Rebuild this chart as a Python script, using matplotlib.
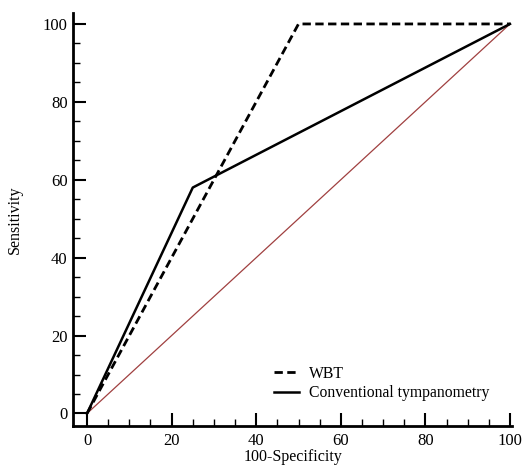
import matplotlib
matplotlib.use("Agg")
import matplotlib.pyplot as plt
from matplotlib.ticker import MultipleLocator

# ROC points
wbt_x = [0, 50, 100]
wbt_y = [0, 100, 100]
conv_x = [0, 25, 100]
conv_y = [0, 58, 100]
diag = [0, 100]

plt.rcParams["font.family"] = ["Liberation Serif", "DejaVu Serif"]

fig = plt.figure(figsize=(5.22, 4.66), dpi=100)
ax = fig.add_axes([0.14, 0.086, 0.841, 0.886])

ax.plot(diag, diag, color="#a04040", lw=0.9)
ax.plot(wbt_x, wbt_y, color="black", lw=2.0, ls=(0, (3, 1.6)), label="WBT")
ax.plot(conv_x, conv_y, color="black", lw=1.8, label="Conventional tympanometry")

ax.set_xlim(-3.3, 100.5)
ax.set_ylim(-3.2, 102.8)
ax.xaxis.set_major_locator(MultipleLocator(20))
ax.xaxis.set_minor_locator(MultipleLocator(5))
ax.yaxis.set_major_locator(MultipleLocator(20))
ax.yaxis.set_minor_locator(MultipleLocator(5))
ax.tick_params(which="major", direction="in", length=9.5, width=1.5, labelsize=12, pad=4)
ax.tick_params(which="minor", direction="in", length=5, width=1.0)
ax.tick_params(axis="x", pad=5)
ax.spines["top"].set_visible(False)
ax.spines["right"].set_visible(False)
ax.spines["left"].set_linewidth(2)
ax.spines["bottom"].set_linewidth(2)

ax.set_xlabel("100-Specificity", fontsize=11.5, labelpad=0)
ax.set_ylabel("Sensitivity", fontsize=11.5, labelpad=14)

ax.legend(loc="lower right", bbox_to_anchor=(0.98, 0.025), frameon=False,
          fontsize=11.3, handlelength=1.6, handletextpad=0.6, labelspacing=0.25)

fig.savefig("out.png", dpi=100)
